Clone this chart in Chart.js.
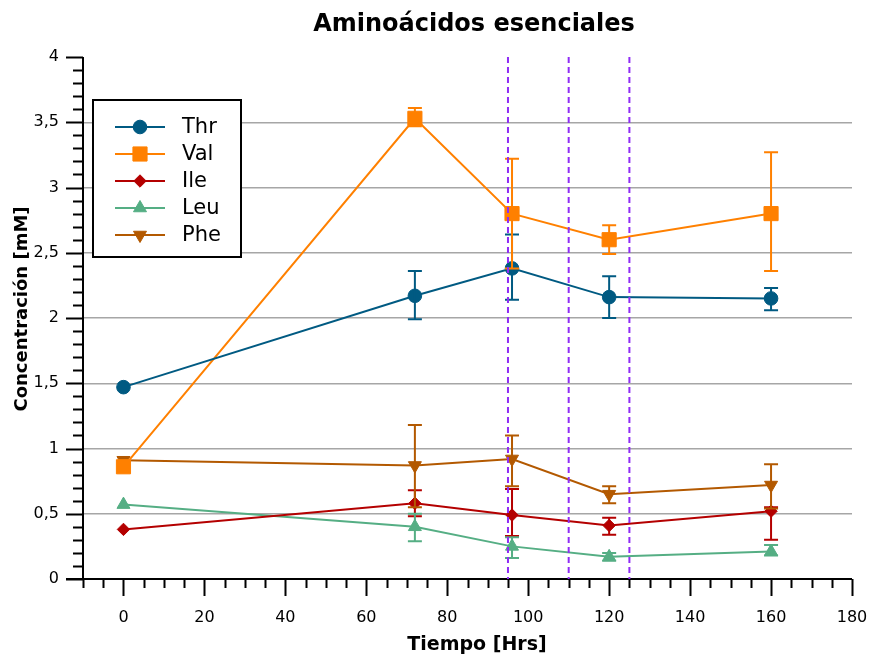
<!DOCTYPE html>
<html>
<head>
<meta charset="utf-8">
<script src="https://cdn.jsdelivr.net/npm/chart.js@4.4.1/dist/chart.umd.min.js"></script>
<style>
html, body { margin: 0; padding: 0; background: #fff; }
</style>
</head>
<body>
<canvas id="chart" width="871" height="659"></canvas>
<script>
// hours of sampling
const hours = [0, 72, 96, 120, 160];

const thr = [1.47, 2.17, 2.38, 2.16, 2.15];
const thrLow = [null, 1.99, 2.14, 2.00, 2.06];
const thrHigh = [null, 2.36, 2.64, 2.32, 2.23];

const val = [0.86, 3.53, 2.80, 2.60, 2.80];
const valLow = [null, 3.47, 2.38, 2.49, 2.36];
const valHigh = [null, 3.61, 3.22, 2.71, 3.27];

const ile = [0.38, 0.58, 0.49, 0.41, 0.52];
const ileLow = [null, 0.48, 0.33, 0.34, 0.30];
const ileHigh = [null, 0.68, 0.69, 0.47, 0.55];

const leu = [0.57, 0.40, 0.25, 0.17, 0.21];
const leuLow = [null, 0.29, 0.16, 0.14, 0.18];
const leuHigh = [null, 0.50, 0.32, 0.20, 0.26];

const phe = [0.91, 0.87, 0.92, 0.65, 0.72];
const pheLow = [null, 0.55, 0.71, 0.58, 0.54];
const pheHigh = [null, 1.18, 1.10, 0.71, 0.88];

const markLines = [95, 110, 125];
const xTicks = [0, 20, 40, 60, 80, 100, 120, 140, 160, 180];
const yTicks = [0, 0.5, 1, 1.5, 2, 2.5, 3, 3.5, 4];

const FONT = "'DejaVu Sans', Verdana, sans-serif";

function series(label, values, low, high, color, style, radius, rotation) {
    return {
        label: label,
        data: hours.map((h, i) => ({ x: h, y: values[i] })),
        errLow: low,
        errHigh: high,
        borderColor: color,
        backgroundColor: color,
        borderWidth: 2,
        pointStyle: style,
        pointRadius: radius,
        pointHoverRadius: radius,
        pointRotation: rotation || 0,
        pointBorderWidth: 1,
        tension: 0
    };
}

const datasets = [
    series("Thr", thr, thrLow, thrHigh, "#005a82", "circle", 6.8),
    series("Val", val, valLow, valHigh, "#ff8000", "rect", 10),
    series("Ile", ile, ileLow, ileHigh, "#b40000", "rectRot", 6.2),
    series("Leu", leu, leuLow, leuHigh, "#55ae84", "triangle", 7.5),
    series("Phe", phe, pheLow, pheHigh, "#b35900", "triangle", 7.5, 180)
];

function drawMarker(ctx, ds, x, y) {
    ctx.fillStyle = ds.backgroundColor;
    ctx.strokeStyle = ds.borderColor;
    ctx.lineWidth = 1;
    Chart.helpers.drawPoint(ctx, {
        pointStyle: ds.pointStyle,
        rotation: ds.pointRotation,
        radius: ds.pointRadius,
        borderWidth: 1
    }, x, y);
}

const decor = {
    id: "decor",
    beforeDatasetsDraw(chart) {
        const ctx = chart.ctx;
        const xs = chart.scales.x, ys = chart.scales.y;
        const a = chart.chartArea;
        ctx.save();
        ctx.strokeStyle = "#000";
        ctx.lineWidth = 2;
        ctx.beginPath();
        ctx.moveTo(a.left, a.top);
        ctx.lineTo(a.left, a.bottom);
        ctx.moveTo(a.left - 17, a.bottom);
        ctx.lineTo(a.right, a.bottom);
        ctx.stroke();

        // y ticks, minor every 0.1
        ctx.beginPath();
        for (let k = 0; k <= 40; k++) {
            const y = Math.round(ys.getPixelForValue(k / 10)) + 0.5;
            const len = k % 5 === 0 ? 17 : 10;
            ctx.moveTo(a.left, y);
            ctx.lineTo(a.left - len, y);
        }
        // x ticks, minor every 5
        for (let v = -10; v <= 180; v += 5) {
            const x = Math.round(xs.getPixelForValue(v)) + 0.5;
            const len = v % 20 === 0 ? 17 : 9;
            ctx.moveTo(x, a.bottom);
            ctx.lineTo(x, a.bottom + len);
        }
        ctx.stroke();
        ctx.restore();
    },
    afterDatasetsDraw(chart) {
        const ctx = chart.ctx;
        const xs = chart.scales.x, ys = chart.scales.y;
        const a = chart.chartArea;
        ctx.save();
        // error bars
        chart.data.datasets.forEach((ds, i) => {
            const meta = chart.getDatasetMeta(i);
            ctx.strokeStyle = ds.borderColor;
            ctx.lineWidth = 2;
            meta.data.forEach((pt, j) => {
                if (ds.errLow[j] == null) return;
                const yl = ys.getPixelForValue(ds.errLow[j]);
                const yh = ys.getPixelForValue(ds.errHigh[j]);
                ctx.beginPath();
                ctx.moveTo(pt.x, yl);
                ctx.lineTo(pt.x, yh);
                ctx.moveTo(pt.x - 7, yl);
                ctx.lineTo(pt.x + 7, yl);
                ctx.moveTo(pt.x - 7, yh);
                ctx.lineTo(pt.x + 7, yh);
                ctx.stroke();
            });
        });
        // dashed markers
        ctx.strokeStyle = "#8f2cf5";
        ctx.lineWidth = 2;
        ctx.setLineDash([6, 4]);
        markLines.forEach(v => {
            const x = xs.getPixelForValue(v);
            ctx.beginPath();
            ctx.moveTo(x, a.top);
            ctx.lineTo(x, a.bottom);
            ctx.stroke();
        });
        ctx.restore();
    },
    afterDraw(chart) {
        const ctx = chart.ctx;
        ctx.save();
        ctx.fillStyle = "#000";
        ctx.textAlign = "center";
        ctx.textBaseline = "middle";
        ctx.font = "bold 24px " + FONT;
        ctx.fillText("Aminoácidos esenciales", 474, 25);
        ctx.font = "bold 19px " + FONT;
        ctx.fillText("Tiempo [Hrs]", 477, 645);
        ctx.save();
        ctx.font = "bold 18px " + FONT;
        ctx.translate(22, 309);
        ctx.rotate(-Math.PI / 2);
        ctx.fillText("Concentración [mM]", 0, 0);
        ctx.restore();

        // legend box
        ctx.fillStyle = "#fff";
        ctx.fillRect(93, 100, 148, 157);
        ctx.strokeStyle = "#000";
        ctx.lineWidth = 2;
        ctx.strokeRect(93, 100, 148, 157);
        chart.data.datasets.forEach((ds, i) => {
            const y = 127 + i * 27;
            ctx.strokeStyle = ds.borderColor;
            ctx.lineWidth = 2;
            ctx.beginPath();
            ctx.moveTo(115, y);
            ctx.lineTo(165, y);
            ctx.stroke();
            drawMarker(ctx, ds, 140, y);
            ctx.fillStyle = "#000";
            ctx.textAlign = "left";
            ctx.font = "21px " + FONT;
            ctx.fillText(ds.label, 182, y + 1);
        });
        ctx.restore();
    }
};

new Chart(document.getElementById("chart"), {
    type: "line",
    data: { datasets: datasets },
    options: {
        responsive: false,
        animation: false,
        devicePixelRatio: 1,
        layout: { padding: { top: 57, right: 19, left: 0, bottom: 0 } },
        plugins: {
            legend: { display: false },
            title: { display: false },
            tooltip: { enabled: false }
        },
        scales: {
            x: {
                type: "linear",
                min: -10,
                max: 180,
                afterFit: s => { s.height = 80; s.paddingLeft = 0; s.paddingRight = 0; },
                afterBuildTicks: s => { s.ticks = xTicks.map(v => ({ value: v })); },
                grid: { display: false, drawTicks: false },
                border: { display: false },
                ticks: { color: "#000", padding: 29, maxRotation: 0, font: { family: FONT, size: 16 } }
            },
            y: {
                min: 0,
                max: 4,
                afterFit: s => { s.width = 83; s.paddingTop = 0; s.paddingBottom = 0; },
                afterBuildTicks: s => { s.ticks = yTicks.map(v => ({ value: v })); },
                grid: {
                    drawTicks: false,
                    lineWidth: 1.5,
                    color: c => (c.tick && (c.tick.value === 0 || c.tick.value === 4)) ? "rgba(0,0,0,0)" : "#a6a6a6"
                },
                border: { display: false },
                ticks: {
                    color: "#000",
                    padding: 24,
                    font: { family: FONT, size: 16 },
                    callback: v => String(v).replace(".", ",")
                }
            }
        }
    },
    plugins: [decor]
});
</script>
</body>
</html>
